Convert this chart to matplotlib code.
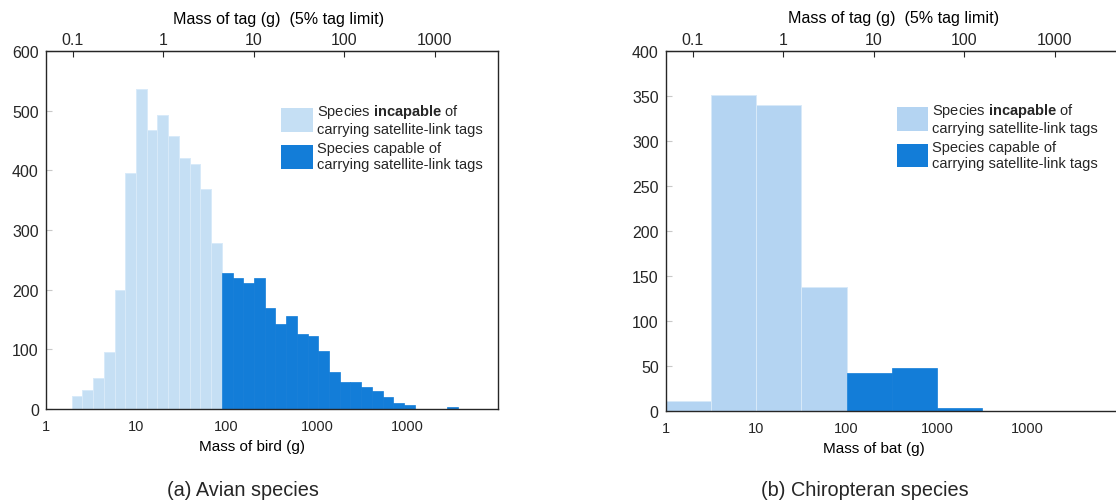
import numpy as np
import matplotlib
matplotlib.use("Agg")
import matplotlib.pyplot as plt
from matplotlib.patches import Patch

plt.rcParams["font.family"] = ["Liberation Sans", "DejaVu Sans"]
plt.rcParams["mathtext.fontset"] = "custom"
plt.rcParams["mathtext.rm"] = "Liberation Sans"
plt.rcParams["mathtext.bf"] = "Liberation Sans:bold"
plt.rcParams["text.color"] = "#262626"

# birds: log10 bin edges (g) and species counts per bin
bird_log_start = 0.287
bird_log_width = 0.1185
bird_counts = [22, 31, 52, 95, 199, 395, 537, 467, 493, 457, 420, 410, 369, 279,
               228, 219, 211, 219, 169, 142, 156, 126, 122, 97, 62, 45, 45, 37,
               30, 20, 10, 7, 0, 0, 0, 3]
bird_n_light = 14

# bats: half-decade bins
bat_edges = [1, 3.16, 10, 31.6, 100, 316, 1000, 3162]
bat_counts = [11, 351, 340, 138, 43, 48, 4]
bat_n_light = 4

bottom_ticks = [1, 10, 100, 1000, 10000]
bottom_labels = ["1", "10", "100", "1000", "1000"]
tag_ticks = [0.1, 1, 10, 100, 1000]
tag_labels = ["0.1", "1", "10", "100", "1000"]

light_bird = "#c5dff4"
light_bat = "#b4d4f2"
dark = "#137dd8"
ink = "#262626"

fig = plt.figure(figsize=(11.16, 5.02), dpi=100)


def draw_panel(ax, edges, counts, n_light, light, ymax, ystep, xlabel, xlab_x,
               top_xy, leg_xy):
    edges = np.asarray(edges, dtype=float)
    counts = np.asarray(counts, dtype=float)
    widths = np.diff(edges)
    ax.bar(edges[:n_light], counts[:n_light], width=widths[:n_light],
           align="edge", color=light, edgecolor="#d8eaf9", linewidth=0.7)
    ax.bar(edges[n_light:-1], counts[n_light:], width=widths[n_light:],
           align="edge", color=dark, edgecolor=dark, linewidth=0.5)

    ax.set_xscale("log")
    ax.set_xlim(1, 1e5)
    ax.set_ylim(0, ymax)
    ax.set_yticks(np.arange(0, ymax + 1, ystep))
    ax.set_xticks(bottom_ticks)
    ax.set_xticklabels(bottom_labels)
    ax.minorticks_off()
    ax.tick_params(axis="x", which="both", length=0, pad=7, labelsize=10.5,
                   labelcolor=ink)
    ax.tick_params(axis="y", direction="in", length=4, width=0.8,
                   color="#c8c8c8", pad=5, labelsize=11.5, labelcolor=ink)
    for s in ax.spines.values():
        s.set_color(ink)
        s.set_linewidth(1.0)
    ax.set_xlabel(xlabel, fontsize=11)
    ax.xaxis.set_label_coords(xlab_x, -0.083)

    top = ax.secondary_xaxis("top", functions=(lambda x: x * 0.05,
                                                lambda x: x / 0.05))
    top.set_xticks(tag_ticks)
    top.set_xticklabels(tag_labels)
    top.minorticks_off()
    top.tick_params(axis="x", which="major", direction="in", length=4,
                    width=0.8, color=ink, pad=3, labelsize=11.5,
                    labelcolor=ink)
    top.tick_params(axis="x", which="minor", length=0)
    top.spines["top"].set_color(ink)
    top.set_xlabel("Mass of tag (g)  (5% tag limit)", fontsize=11.6)
    top.xaxis.set_label_coords(top_xy[0], top_xy[1], transform=ax.transAxes)
    top.xaxis.label.set_verticalalignment("bottom")

    handles = [Patch(facecolor=light, edgecolor="none"),
               Patch(facecolor=dark, edgecolor="none")]
    labels = ["Species $\\mathbf{incapable}$ of\ncarrying satellite-link tags",
              "Species capable of\ncarrying satellite-link tags"]
    ax.legend(handles, labels, loc="upper left", bbox_to_anchor=leg_xy,
              frameon=False, fontsize=10.5, handlelength=2.17,
              handleheight=2.1, handletextpad=0.27, labelspacing=0.3,
              borderpad=0, borderaxespad=0)


ax1 = fig.add_axes([0.0410, 0.1833, 0.4053, 0.7131])
bird_edges = 10 ** np.linspace(bird_log_start,
                               bird_log_start + bird_log_width * len(bird_counts),
                               len(bird_counts) + 1)
draw_panel(ax1, bird_edges, bird_counts, bird_n_light, light_bird, 600, 100,
           "Mass of bird (g)", 0.457, (0.514, 1.071), (0.52, 0.857))

ax2 = fig.add_axes([0.5965, 0.1787, 0.4053, 0.7171])
draw_panel(ax2, bat_edges, bat_counts, bat_n_light, light_bat, 400, 50,
           "Mass of bat (g)", 0.46, (0.504, 1.072), (0.511, 0.862))
ax2.spines["right"].set_visible(False)

fig.text(243 / 1116, 1 - 491 / 502, "(a) Avian species", fontsize=14.3,
         ha="center", va="center")
fig.text(865 / 1116, 1 - 491 / 502, "(b) Chiropteran species", fontsize=14.3,
         ha="center", va="center")

fig.savefig("out.png", dpi=100)
